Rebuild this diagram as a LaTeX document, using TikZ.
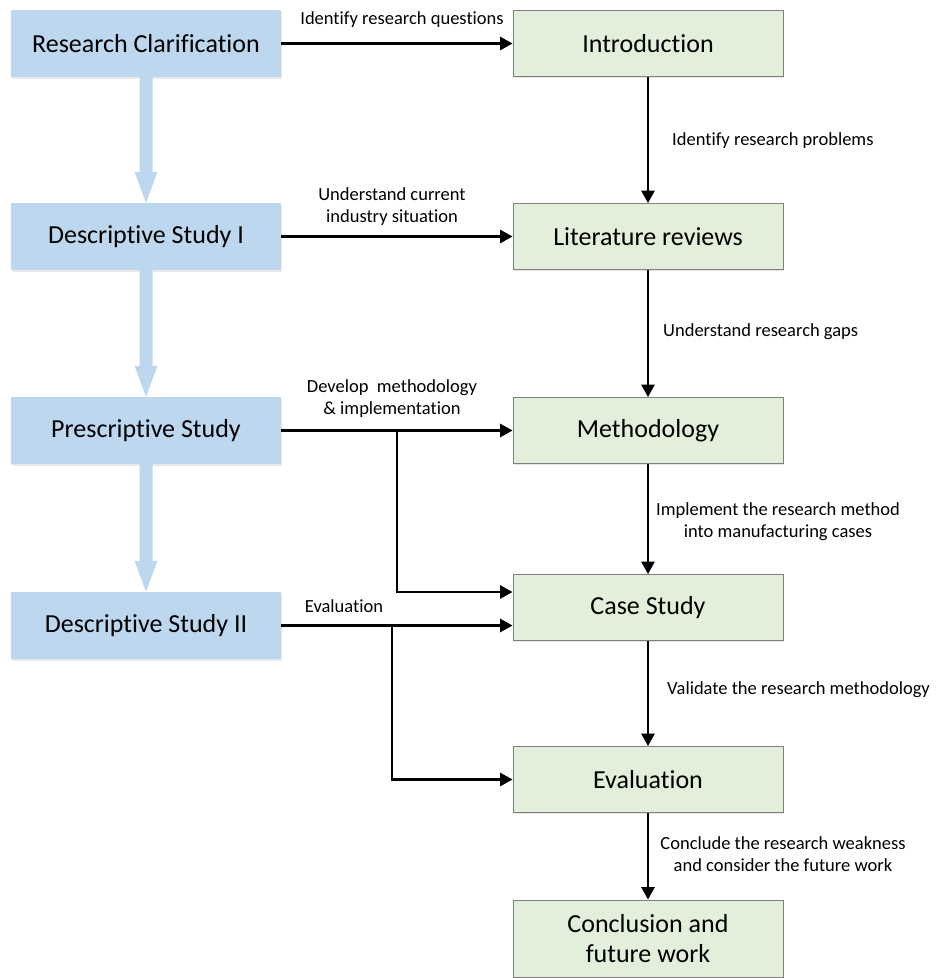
\documentclass[tikz,border=0pt]{standalone}
\usepackage{fontspec}
\setmainfont{Carlito}[Ligatures={NoCommon}]
\usetikzlibrary{arrows.meta,shadows,calc}
\definecolor{stageblue}{HTML}{BDD7EE}
\definecolor{chapgreen}{HTML}{E2EFDA}
\definecolor{chapedge}{HTML}{7F7F7F}
\begin{document}
\begin{tikzpicture}[x=1pt,y=-1pt,
  stagebox/.style={fill=stageblue,draw=none,minimum width=270pt,minimum height=67pt,
    inner sep=0pt,font=\fontsize{26}{30}\selectfont,
    drop shadow={opacity=0.18,shadow xshift=1pt,shadow yshift=-1.5pt}},
  chapbox/.style={fill=chapgreen,draw=chapedge,line width=0.8pt,minimum width=270pt,
    minimum height=66pt,inner sep=0pt,align=center,font=\fontsize{26}{30}\selectfont,
    drop shadow={opacity=0.2,shadow xshift=1pt,shadow yshift=-1.5pt}},
  flow/.style={line width=2.7pt,-{Triangle[length=12.5pt,width=13pt]}},
  lbl/.style={font=\fontsize{18.5}{22}\selectfont,align=center,inner sep=0pt},
  bigarrow/.style={fill=stageblue,draw=none}]
\useasboundingbox (0,0) rectangle (936,978);

% research stages (left column)
\node[stagebox] (rc)  at (146,43.5)  {Research Clarification};
\node[stagebox] (ds1) at (146,236.5) {Descriptive Study I};
\node[stagebox] (ps)  at (146,430.5) {Prescriptive Study};
\node[stagebox] (ds2) at (146,625.5) {Descriptive Study II};

% broad arrows linking the stages
\foreach \a/\b in {rc/ds1,ds1/ps,ps/ds2}{
  \path let \p1=(\a.south), \p2=(\b.north) in
    [bigarrow] (\x1-6.5pt,\y1) -- (\x1+6.5pt,\y1) -- (\x1+6.5pt,\y2+31pt)
      -- (\x1+11.5pt,\y2+31pt) -- (\x2,\y2) -- (\x1-11.5pt,\y2+31pt)
      -- (\x1-6.5pt,\y2+31pt) -- cycle;
}

% thesis chapters (right column)
\node[chapbox] (intro) at (648,43.5)  {Introduction};
\node[chapbox] (lit)   at (648,236.5) {Literature reviews};
\node[chapbox] (meth)  at (648,430.5) {Methodology};
\node[chapbox] (cs)    at (648,607.5) {Case Study};
\node[chapbox] (eval)  at (648,779.5) {Evaluation};
\node[chapbox,minimum height=77pt] (conc) at (648,938.5) {Conclusion and\\future work};

% stage-to-chapter connectors
\draw[flow] (rc.east) -- (intro.west);
\draw[flow] (ds1.east) -- (lit.west);
\draw[flow] (ps.east) -- (meth.west);
\coordinate (b1) at (397,430.5);
\draw[flow] (b1) |- ([yshift=15.5pt]cs.west);
\draw[flow] (ds2.east) -- (ds2.east -| cs.west);
\coordinate (b2) at (392,625.5);
\draw[flow] (b2) |- (eval.west);

% chapter sequence
\draw[flow] (intro.south) -- (lit.north);
\draw[flow] (lit.south) -- (meth.north);
\draw[flow] (meth.south) -- (cs.north);
\draw[flow] (cs.south) -- (eval.north);
\draw[flow] (eval.south) -- (conc.north);

% connector labels
\node[lbl] (l1) at (402,20) {Identify research questions};
\node[lbl] (l2) at (392,207) {Understand current\\industry situation};
\node[lbl] (l3) at (392,399) {Develop\ \ methodology\\\& implementation};
\node[lbl] (l4) at (344,606) {Evaluation};
\node[lbl,anchor=west] (l5) at (672,141) {Identify research problems};
\node[lbl,anchor=west] (l6) at (663,332) {Understand research gaps};
\node[lbl] (l7) at (778,522) {Implement the research method\\into manufacturing cases};
\node[lbl,anchor=west] (l8) at (667,690) {Validate the research methodology};
\node[lbl] (l9) at (783,854) {Conclude the research weakness\\and consider the future work};
\end{tikzpicture}
\end{document}
